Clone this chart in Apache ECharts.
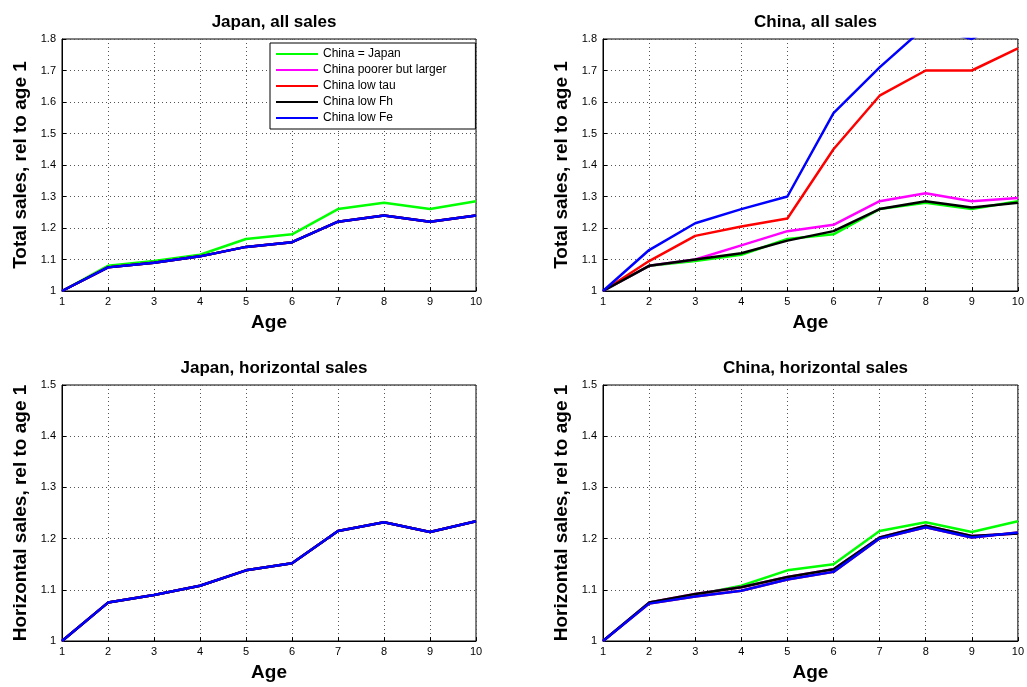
<!DOCTYPE html>
<html><head><meta charset="utf-8">
<script src="https://cdn.jsdelivr.net/npm/echarts@6/dist/echarts.min.js"></script>
<style>body{margin:0;background:#fff}#c{width:1027px;height:687px}</style>
</head><body><div id="c"></div>
<script>
var ages = [1,2,3,4,5,6,7,8,9,10];
var names = ['China = Japan','China poorer but larger','China low tau','China low Fh','China low Fe'];
var colors = ['#00ff00','#ff00ff','#ff0000','#000000','#0000ff'];

// Japan, all sales
var jaAllGreen = [1,1.08,1.095,1.115,1.165,1.18,1.26,1.28,1.26,1.285];
var jaAllOther = [1,1.075,1.09,1.11,1.14,1.155,1.22,1.24,1.22,1.24];
// China, all sales
var chAllGreen = [1,1.08,1.095,1.115,1.165,1.18,1.26,1.28,1.26,1.285];
var chAllMag = [1,1.08,1.10,1.145,1.19,1.21,1.285,1.31,1.285,1.295];
var chAllRed = [1,1.095,1.175,1.205,1.23,1.45,1.62,1.70,1.70,1.77];
var chAllBlack = [1,1.08,1.10,1.12,1.16,1.19,1.26,1.285,1.265,1.28];
var chAllBlue = [1,1.13,1.215,1.26,1.30,1.565,1.71,1.84,1.80,1.88];
// Japan, horizontal sales
var jaHor = [1,1.075,1.09,1.108,1.138,1.152,1.215,1.232,1.213,1.234];
// China, horizontal sales
var chHorGreen = [1,1.075,1.09,1.108,1.138,1.15,1.215,1.232,1.213,1.234];
var chHorBlack = [1,1.075,1.092,1.105,1.125,1.14,1.202,1.225,1.205,1.21];
var chHorBlue = [1,1.073,1.087,1.098,1.12,1.135,1.2,1.222,1.202,1.212];

var panels = [
  {title:'Japan, all sales', grid:{left:62,width:414,top:39,height:252}, ymax:1.8, yname:'Total sales, rel to age 1',
   data:[jaAllGreen,jaAllOther,jaAllOther,jaAllOther,jaAllOther]},
  {title:'China, all sales', grid:{left:603,width:415,top:39,height:252}, ymax:1.8, yname:'Total sales, rel to age 1',
   data:[chAllGreen,chAllMag,chAllRed,chAllBlack,chAllBlue]},
  {title:'Japan, horizontal sales', grid:{left:62,width:414,top:385,height:256}, ymax:1.5, yname:'Horizontal sales, rel to age 1',
   data:[jaHor,jaHor,jaHor,jaHor,jaHor]},
  {title:'China, horizontal sales', grid:{left:603,width:415,top:385,height:256}, ymax:1.5, yname:'Horizontal sales, rel to age 1',
   data:[chHorGreen,chHorBlack,chHorBlue,chHorBlack,chHorBlue]}
];

var dotted = {show:true, lineStyle:{color:'#555', type:[1,3], width:1}};
var option = {animation:false, title:[], grid:[], xAxis:[], yAxis:[], series:[],
  legend:{data:names, orient:'vertical', left:270, top:43, itemWidth:42, itemHeight:2, itemGap:4,
    backgroundColor:'#fff', borderColor:'#000', borderWidth:1, padding:[5,29,5,6], borderRadius:0,
    textStyle:{fontSize:12, fontFamily:'Liberation Sans', color:'#000'}, icon:'rect'}};

panels.forEach(function(p, i){
  var g = p.grid;
  option.title.push({text:p.title, left:g.left + g.width/2, top:g.top-30, textAlign:'center',
    textStyle:{fontSize:17, fontWeight:'bold', fontFamily:'Liberation Sans', color:'#000'}});
  option.grid.push({left:g.left, width:g.width, top:g.top, height:g.height, show:true, borderColor:'#000', borderWidth:1, backgroundColor:'transparent'});
  option.xAxis.push({type:'value', gridIndex:i, min:1, max:10, interval:1, name:'Age', nameLocation:'middle', nameGap:22,
    nameTextStyle:{fontSize:19, fontWeight:'bold', fontFamily:'Liberation Sans', color:'#000'},
    axisLine:{lineStyle:{color:'#000'}}, axisTick:{inside:true, length:4, lineStyle:{color:'#000'}},
    axisLabel:{fontSize:11, color:'#000', fontFamily:'Liberation Sans', margin:5}, splitLine:dotted});
  option.yAxis.push({type:'value', gridIndex:i, min:1, max:p.ymax, interval:0.1, name:p.yname, nameLocation:'middle', nameGap:32,
    nameTextStyle:{fontSize:19, fontWeight:'bold', fontFamily:'Liberation Sans', color:'#000'},
    axisLine:{show:true, lineStyle:{color:'#000'}}, axisTick:{inside:true, length:4, lineStyle:{color:'#000'}},
    axisLabel:{fontSize:11, color:'#000', fontFamily:'Liberation Sans', margin:6,
      formatter:function(v){return (Math.round(v*10)/10).toString();}}, splitLine:dotted});
  p.data.forEach(function(d, k){
    option.series.push({type:'line', name:names[k], xAxisIndex:i, yAxisIndex:i, showSymbol:false, clip:true,
      lineStyle:{width:2.5, color:colors[k]}, itemStyle:{color:colors[k]},
      data:ages.map(function(a, j){return [a, d[j]];})});
  });
});

echarts.init(document.getElementById('c')).setOption(option);
</script></body></html>
